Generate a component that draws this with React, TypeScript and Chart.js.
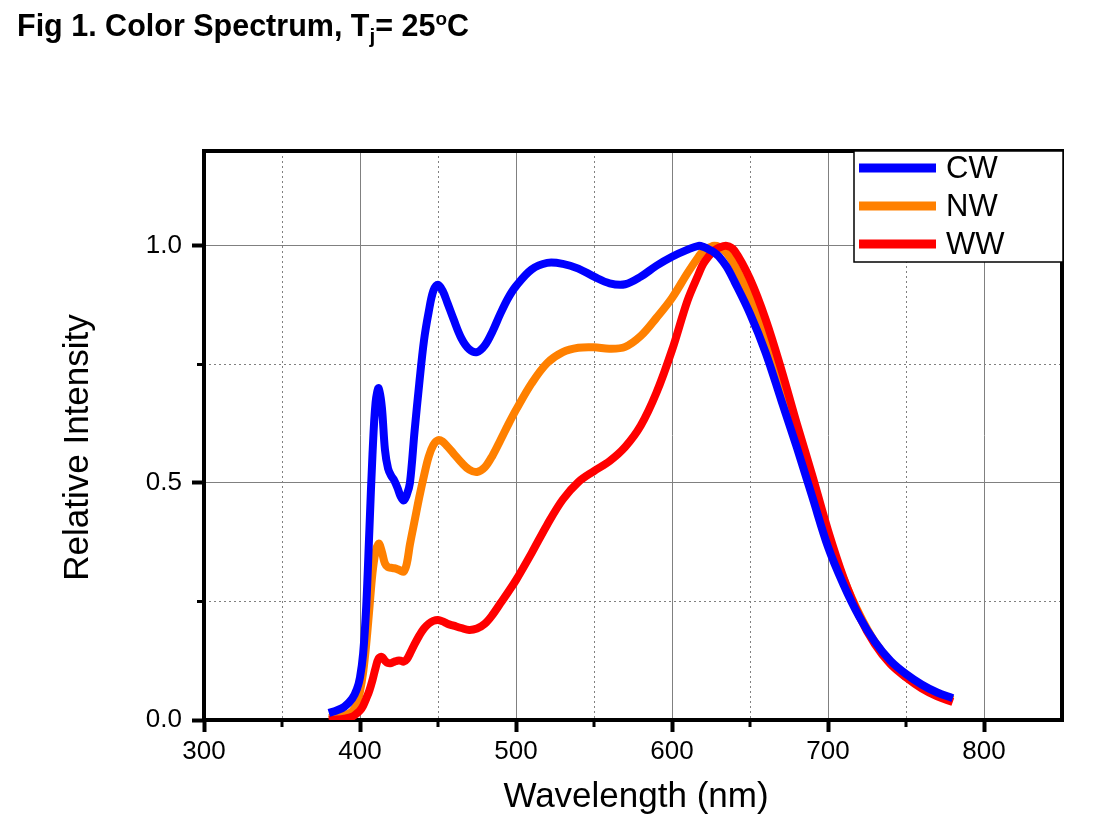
import { useEffect, useRef } from "react";
import Chart from "chart.js/auto";

// spectrum samples (nm / relative intensity)
const wavelengths = [
  380, 385, 390, 395, 398, 400, 402, 404, 406, 408, 410, 412, 414, 416, 418, 420,
  422, 424, 426, 428, 430, 432, 435, 438, 441, 444, 447, 450, 453, 456, 460, 465,
  470, 475, 480, 485, 490, 495, 500, 510, 520, 530, 540, 550, 560, 570, 580, 590,
  600, 610, 617, 620, 625, 627, 630, 635, 640, 650, 660, 670, 680, 690, 700, 710,
  720, 730, 740, 750, 760, 770, 780,
];

const cwValues = [
  0.015, 0.02, 0.028, 0.045, 0.065, 0.09, 0.14, 0.24, 0.4, 0.56, 0.67, 0.7, 0.66, 0.57, 0.53, 0.515,
  0.505, 0.49, 0.472, 0.463, 0.475, 0.5, 0.61, 0.71, 0.8, 0.86, 0.905, 0.918, 0.905, 0.88, 0.845, 0.805,
  0.782, 0.776, 0.79, 0.82, 0.857, 0.89, 0.915, 0.95, 0.964, 0.962, 0.952, 0.935, 0.921, 0.919, 0.935, 0.958,
  0.977, 0.992, 1.0, 0.998, 0.99, 0.986, 0.978, 0.956, 0.925, 0.857, 0.775, 0.675, 0.575, 0.47, 0.365, 0.285,
  0.218, 0.165, 0.125, 0.097, 0.075, 0.058, 0.046,
];

const nwValues = [
  0.004, 0.006, 0.01, 0.018, 0.035, 0.06, 0.1, 0.16, 0.235, 0.31, 0.355, 0.372, 0.355, 0.33, 0.322, 0.321,
  0.32, 0.318, 0.315, 0.313, 0.33, 0.37, 0.42, 0.47, 0.515, 0.555, 0.58, 0.59, 0.587, 0.577, 0.562, 0.543,
  0.528, 0.523, 0.533, 0.558, 0.59, 0.623, 0.654, 0.71, 0.753, 0.776, 0.785, 0.786, 0.783, 0.787, 0.81, 0.848,
  0.89, 0.943, 0.977, 0.989, 0.998, 1.0, 0.998, 0.985, 0.96, 0.893, 0.81, 0.71, 0.6, 0.495, 0.385, 0.298,
  0.224, 0.165, 0.123, 0.095, 0.073, 0.056, 0.043,
];

const wwValues = [
  0.0, 0.001, 0.003, 0.007, 0.014, 0.02, 0.03, 0.045, 0.062, 0.084, 0.11, 0.13, 0.133, 0.125, 0.12, 0.12,
  0.123, 0.125, 0.125, 0.123, 0.128, 0.14, 0.16, 0.178, 0.193, 0.203, 0.209, 0.211, 0.208, 0.203, 0.199, 0.194,
  0.19, 0.193, 0.203, 0.222, 0.246, 0.27, 0.295, 0.352, 0.412, 0.465, 0.502, 0.525, 0.546, 0.576, 0.621, 0.69,
  0.78, 0.885, 0.94, 0.962, 0.984, 0.99, 0.996, 1.0, 0.99, 0.93, 0.845, 0.74, 0.625, 0.515, 0.4, 0.3,
  0.22, 0.16, 0.118, 0.09, 0.067, 0.05, 0.038,
];

const seriesNames = ["CW", "NW", "WW"];
const seriesColors = ["#0000ff", "#ff8000", "#ff0000"];

const xMajorTicks = [300, 400, 500, 600, 700, 800];
const xMinorTicks = [350, 450, 550, 650, 750];
const yMajorTicks = [0, 0.5, 1.0];
const yMinorTicks = [0.25, 0.75];

const FONT = "'Liberation Sans', Arial, sans-serif";

const toPoints = (ys: number[]) => wavelengths.map((x, i) => ({ x, y: ys[i] }));

const framePlugin = {
  id: "frame",
  beforeDatasetsDraw(chart: any) {
    const { ctx, chartArea: a, scales } = chart;
    const sx = scales.x;
    const sy = scales.y;
    ctx.save();

    // dotted minor grid
    ctx.strokeStyle = "#808080";
    ctx.lineWidth = 1;
    ctx.setLineDash([2, 3]);
    ctx.beginPath();
    xMinorTicks.forEach((v) => {
      const px = Math.round(sx.getPixelForValue(v)) + 0.5;
      ctx.moveTo(px, a.top);
      ctx.lineTo(px, a.bottom);
    });
    yMinorTicks.forEach((v) => {
      const py = Math.round(sy.getPixelForValue(v)) + 0.5;
      ctx.moveTo(a.left, py);
      ctx.lineTo(a.right, py);
    });
    ctx.stroke();
    ctx.setLineDash([]);

    // minor ticks
    ctx.strokeStyle = "#000";
    ctx.lineWidth = 3;
    ctx.beginPath();
    xMinorTicks.forEach((v) => {
      const px = sx.getPixelForValue(v);
      ctx.moveTo(px, a.bottom);
      ctx.lineTo(px, a.bottom + 7);
    });
    yMinorTicks.forEach((v) => {
      const py = sy.getPixelForValue(v);
      ctx.moveTo(a.left - 7, py);
      ctx.lineTo(a.left, py);
    });
    ctx.stroke();

    // axis frame
    ctx.lineWidth = 4;
    ctx.strokeRect(a.left, a.top, a.right - a.left, a.bottom - a.top);
    ctx.restore();
  },
  afterDraw(chart: any) {
    const { ctx, chartArea: a } = chart;
    ctx.save();

    // axis titles
    ctx.fillStyle = "#000";
    ctx.font = `35px ${FONT}`;
    ctx.textAlign = "center";
    ctx.textBaseline = "alphabetic";
    ctx.fillText("Wavelength (nm)", (a.left + a.right) / 2 + 3, a.bottom + 87);
    ctx.translate(88, (a.top + a.bottom) / 2 + 12);
    ctx.rotate(-Math.PI / 2);
    ctx.fillText("Relative Intensity", 0, 0);
    ctx.setTransform(1, 0, 0, 1, 0, 0);

    // legend box
    const bx = a.right - 208;
    const by = a.top;
    ctx.fillStyle = "#fff";
    ctx.fillRect(bx, by, 209, 111);
    ctx.strokeStyle = "#000";
    ctx.lineWidth = 1.5;
    ctx.strokeRect(bx, by, 209, 111);
    ctx.font = `31px ${FONT}`;
    ctx.textAlign = "left";
    ctx.textBaseline = "middle";
    seriesNames.forEach((name, i) => {
      const ly = by + 17 + i * 38;
      ctx.strokeStyle = seriesColors[i];
      ctx.lineWidth = 9;
      ctx.beginPath();
      ctx.moveTo(bx + 5, ly);
      ctx.lineTo(bx + 82, ly);
      ctx.stroke();
      ctx.fillStyle = "#000";
      ctx.fillText(name, bx + 92, ly + 1);
    });
    ctx.restore();
  },
};

export default function App() {
  const canvasRef = useRef<HTMLCanvasElement>(null);
  const chartRef = useRef<Chart | null>(null);

  useEffect(() => {
    if (!canvasRef.current) return;
    const series = [cwValues, nwValues, wwValues];
    const drawOrder = [0, 2, 1];

    chartRef.current = new Chart(canvasRef.current, {
      type: "line",
      data: {
        datasets: series.map((values, i) => ({
          label: seriesNames[i],
          data: toPoints(values),
          borderColor: seriesColors[i],
          backgroundColor: seriesColors[i],
          borderWidth: 8,
          pointRadius: 0,
          fill: false,
          tension: 0.35,
          borderJoinStyle: "round" as const,
          order: drawOrder[i],
        })),
      },
      options: {
        animation: false,
        responsive: false,
        devicePixelRatio: 1,
        layout: { padding: { left: 0, top: 151, right: 38, bottom: 0 } },
        plugins: {
          legend: { display: false },
          tooltip: { enabled: false },
          title: { display: false },
        },
        scales: {
          x: {
            type: "linear",
            min: 300,
            max: 850,
            afterBuildTicks: (scale: any) => {
              scale.ticks = xMajorTicks.map((value) => ({ value }));
            },
            afterFit: (scale: any) => {
              scale.height = 112;
            },
            ticks: {
              color: "#000",
              font: { family: FONT, size: 26 },
              padding: 4,
              maxRotation: 0,
              callback: (v: any) => String(v),
            },
            grid: {
              color: "#808080",
              lineWidth: 1,
              drawTicks: true,
              tickLength: 12,
              tickWidth: 4,
              tickColor: "#000",
            },
            border: { display: false },
          },
          y: {
            type: "linear",
            min: 0,
            max: 1.2,
            afterBuildTicks: (scale: any) => {
              scale.ticks = yMajorTicks.map((value) => ({ value }));
            },
            afterFit: (scale: any) => {
              scale.width = 204;
            },
            ticks: {
              color: "#000",
              font: { family: FONT, size: 26 },
              padding: 10,
              callback: (v: any) => Number(v).toFixed(1),
            },
            grid: {
              color: "#808080",
              lineWidth: 1,
              drawTicks: true,
              tickLength: 12,
              tickWidth: 4,
              tickColor: "#000",
            },
            border: { display: false },
          },
        },
      },
      plugins: [framePlugin],
    });

    return () => {
      chartRef.current?.destroy();
      chartRef.current = null;
    };
  }, []);

  return (
    <div
      style={{
        position: "absolute",
        left: 0,
        top: 0,
        width: 1100,
        height: 832,
        background: "#fff",
      }}
    >
      <div
        style={{
          position: "absolute",
          left: 17,
          top: 9,
          font: `bold 30.5px ${FONT}`,
          lineHeight: "33px",
          color: "#000",
          whiteSpace: "nowrap",
        }}
      >
        Fig 1. Color Spectrum, T
        <sub style={{ fontSize: "0.68em", lineHeight: 0 }}>j</sub>= 25
        <sup style={{ fontSize: "0.62em", lineHeight: 0 }}>o</sup>C
      </div>
      <canvas
        ref={canvasRef}
        width={1100}
        height={832}
        style={{ display: "block", width: 1100, height: 832 }}
      />
    </div>
  );
}
